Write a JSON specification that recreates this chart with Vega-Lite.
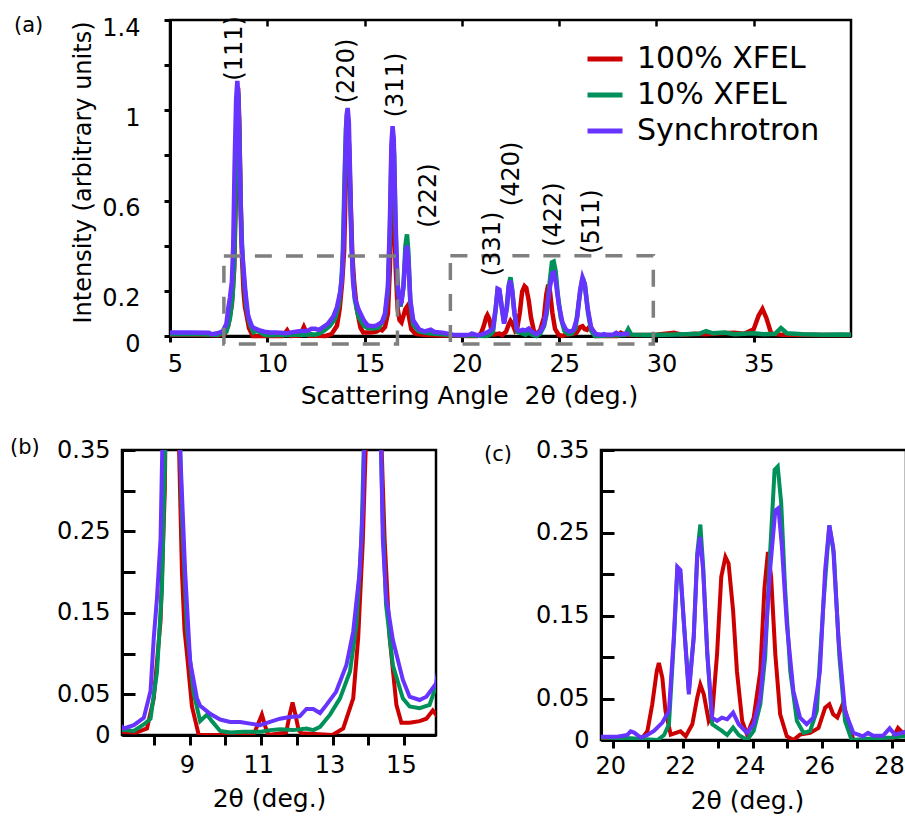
{
 "$schema": "https://vega.github.io/schema/vega-lite/v6.json",
 "padding": {"left": 8, "top": 13, "right": 0, "bottom": 0},
 "background": "white",
 "config": {
  "font": "DejaVu Sans",
  "view": {"stroke": "black", "strokeWidth": 2.5},
  "axis": {"grid": false, "domainColor": "black", "domainWidth": 3, "tickColor": "black", "tickWidth": 3, "labelColor": "black", "titleColor": "black", "labelFont": "DejaVu Sans", "titleFont": "DejaVu Sans", "labelFontSize": 24, "titleFontSize": 25, "titleFontWeight": "normal", "labelFlush": false, "labelOverlap": false, "format": "~g"},
  "title": {"font": "DejaVu Sans", "fontSize": 21, "fontWeight": "normal", "color": "black"}
 },
 "datasets": {
  "xrd": [
   {"s":"100% XFEL","x":5,"y":0.005},{"s":"100% XFEL","x":6,"y":0.005},{"s":"100% XFEL","x":7,"y":0.004},{"s":"100% XFEL","x":7.5,"y":0.003},{"s":"100% XFEL","x":7.8,"y":0.008},{"s":"100% XFEL","x":7.99,"y":0.045},{"s":"100% XFEL","x":8.18,"y":0.14},{"s":"100% XFEL","x":8.3,"y":0.3},{"s":"100% XFEL","x":8.38,"y":0.6},{"s":"100% XFEL","x":8.45,"y":1.0},{"s":"100% XFEL","x":8.5,"y":1.1},{"s":"100% XFEL","x":8.56,"y":0.95},{"s":"100% XFEL","x":8.63,"y":0.6},{"s":"100% XFEL","x":8.7,"y":0.35},{"s":"100% XFEL","x":8.78,"y":0.2},{"s":"100% XFEL","x":8.85,"y":0.13},{"s":"100% XFEL","x":8.92,"y":0.1},{"s":"100% XFEL","x":9.06,"y":0.035},{"s":"100% XFEL","x":9.25,"y":0},{"s":"100% XFEL","x":10.78,"y":0},{"s":"100% XFEL","x":10.9,"y":0.012},{"s":"100% XFEL","x":11.02,"y":0.025},{"s":"100% XFEL","x":11.12,"y":0.01},{"s":"100% XFEL","x":11.2,"y":0},{"s":"100% XFEL","x":11.7,"y":0.003},{"s":"100% XFEL","x":11.8,"y":0.025},{"s":"100% XFEL","x":11.88,"y":0.04},{"s":"100% XFEL","x":11.96,"y":0.025},{"s":"100% XFEL","x":12.05,"y":0.006},{"s":"100% XFEL","x":12.13,"y":0.002},{"s":"100% XFEL","x":13,"y":0},{"s":"100% XFEL","x":13.3,"y":0.008},{"s":"100% XFEL","x":13.58,"y":0.045},{"s":"100% XFEL","x":13.72,"y":0.12},{"s":"100% XFEL","x":13.85,"y":0.24},{"s":"100% XFEL","x":13.95,"y":0.38},{"s":"100% XFEL","x":14.04,"y":0.7},{"s":"100% XFEL","x":14.12,"y":0.88},{"s":"100% XFEL","x":14.2,"y":0.85},{"s":"100% XFEL","x":14.28,"y":0.6},{"s":"100% XFEL","x":14.37,"y":0.36},{"s":"100% XFEL","x":14.46,"y":0.24},{"s":"100% XFEL","x":14.6,"y":0.12},{"s":"100% XFEL","x":14.79,"y":0.037},{"s":"100% XFEL","x":14.93,"y":0.015},{"s":"100% XFEL","x":15.16,"y":0.015},{"s":"100% XFEL","x":15.44,"y":0.017},{"s":"100% XFEL","x":15.63,"y":0.02},{"s":"100% XFEL","x":15.81,"y":0.03},{"s":"100% XFEL","x":15.9,"y":0.025},{"s":"100% XFEL","x":16.05,"y":0.04},{"s":"100% XFEL","x":16.2,"y":0.1},{"s":"100% XFEL","x":16.3,"y":0.3},{"s":"100% XFEL","x":16.38,"y":0.55},{"s":"100% XFEL","x":16.45,"y":0.68},{"s":"100% XFEL","x":16.52,"y":0.55},{"s":"100% XFEL","x":16.6,"y":0.3},{"s":"100% XFEL","x":16.7,"y":0.12},{"s":"100% XFEL","x":16.8,"y":0.07},{"s":"100% XFEL","x":16.9,"y":0.06},{"s":"100% XFEL","x":17,"y":0.09},{"s":"100% XFEL","x":17.1,"y":0.12},{"s":"100% XFEL","x":17.18,"y":0.13},{"s":"100% XFEL","x":17.27,"y":0.09},{"s":"100% XFEL","x":17.4,"y":0.03},{"s":"100% XFEL","x":17.6,"y":0.01},{"s":"100% XFEL","x":18,"y":0.005},{"s":"100% XFEL","x":19,"y":0.002},{"s":"100% XFEL","x":20.5,"y":0},{"s":"100% XFEL","x":20.79,"y":0},{"s":"100% XFEL","x":20.98,"y":0.0105},{"s":"100% XFEL","x":21.12,"y":0.043},{"s":"100% XFEL","x":21.25,"y":0.083},{"s":"100% XFEL","x":21.31,"y":0.093},{"s":"100% XFEL","x":21.41,"y":0.075},{"s":"100% XFEL","x":21.5,"y":0.035},{"s":"100% XFEL","x":21.65,"y":0.0065},{"s":"100% XFEL","x":21.93,"y":0.0105},{"s":"100% XFEL","x":22.08,"y":0.0045},{"s":"100% XFEL","x":22.27,"y":0.019},{"s":"100% XFEL","x":22.41,"y":0.051},{"s":"100% XFEL","x":22.5,"y":0.067},{"s":"100% XFEL","x":22.6,"y":0.055},{"s":"100% XFEL","x":22.74,"y":0.023},{"s":"100% XFEL","x":22.84,"y":0.031},{"s":"100% XFEL","x":22.98,"y":0.104},{"s":"100% XFEL","x":23.1,"y":0.197},{"s":"100% XFEL","x":23.22,"y":0.221},{"s":"100% XFEL","x":23.31,"y":0.213},{"s":"100% XFEL","x":23.44,"y":0.156},{"s":"100% XFEL","x":23.55,"y":0.083},{"s":"100% XFEL","x":23.7,"y":0.023},{"s":"100% XFEL","x":23.84,"y":0.0065},{"s":"100% XFEL","x":24.03,"y":0.027},{"s":"100% XFEL","x":24.22,"y":0.083},{"s":"100% XFEL","x":24.34,"y":0.184},{"s":"100% XFEL","x":24.44,"y":0.227},{"s":"100% XFEL","x":24.53,"y":0.197},{"s":"100% XFEL","x":24.65,"y":0.104},{"s":"100% XFEL","x":24.79,"y":0.031},{"s":"100% XFEL","x":24.98,"y":0.0045},{"s":"100% XFEL","x":25.17,"y":0},{"s":"100% XFEL","x":25.36,"y":0.0065},{"s":"100% XFEL","x":25.65,"y":0.0085},{"s":"100% XFEL","x":25.89,"y":0.0145},{"s":"100% XFEL","x":26.08,"y":0.039},{"s":"100% XFEL","x":26.2,"y":0.043},{"s":"100% XFEL","x":26.31,"y":0.031},{"s":"100% XFEL","x":26.43,"y":0.027},{"s":"100% XFEL","x":26.6,"y":0.045},{"s":"100% XFEL","x":26.74,"y":0.023},{"s":"100% XFEL","x":26.89,"y":0},{"s":"100% XFEL","x":28,"y":0},{"s":"100% XFEL","x":28.17,"y":0.0145},{"s":"100% XFEL","x":28.27,"y":0.01},{"s":"100% XFEL","x":28.41,"y":0.005},{"s":"100% XFEL","x":29,"y":0.004},{"s":"100% XFEL","x":30,"y":0.006},{"s":"100% XFEL","x":30.9,"y":0.014},{"s":"100% XFEL","x":31.3,"y":0.006},{"s":"100% XFEL","x":32,"y":0.01},{"s":"100% XFEL","x":32.5,"y":0.008},{"s":"100% XFEL","x":33.3,"y":0.012},{"s":"100% XFEL","x":34,"y":0.014},{"s":"100% XFEL","x":34.5,"y":0.01},{"s":"100% XFEL","x":35,"y":0.03},{"s":"100% XFEL","x":35.25,"y":0.09},{"s":"100% XFEL","x":35.45,"y":0.12},{"s":"100% XFEL","x":35.65,"y":0.08},{"s":"100% XFEL","x":35.9,"y":0.01},{"s":"100% XFEL","x":36.5,"y":0.005},{"s":"100% XFEL","x":37.5,"y":0.005},{"s":"100% XFEL","x":38.5,"y":0.004},{"s":"100% XFEL","x":40,"y":0.004},
   {"s":"10% XFEL","x":5,"y":0.008},{"s":"10% XFEL","x":6,"y":0.009},{"s":"10% XFEL","x":7,"y":0.007},{"s":"10% XFEL","x":7.43,"y":0.005},{"s":"10% XFEL","x":7.71,"y":0.013},{"s":"10% XFEL","x":7.9,"y":0.02},{"s":"10% XFEL","x":8.08,"y":0.077},{"s":"10% XFEL","x":8.22,"y":0.18},{"s":"10% XFEL","x":8.3,"y":0.33},{"s":"10% XFEL","x":8.37,"y":0.65},{"s":"10% XFEL","x":8.44,"y":1.0},{"s":"10% XFEL","x":8.5,"y":1.08},{"s":"10% XFEL","x":8.56,"y":0.92},{"s":"10% XFEL","x":8.63,"y":0.6},{"s":"10% XFEL","x":8.7,"y":0.4},{"s":"10% XFEL","x":8.78,"y":0.27},{"s":"10% XFEL","x":8.92,"y":0.13},{"s":"10% XFEL","x":9.1,"y":0.053},{"s":"10% XFEL","x":9.29,"y":0.017},{"s":"10% XFEL","x":9.48,"y":0.025},{"s":"10% XFEL","x":9.62,"y":0.017},{"s":"10% XFEL","x":9.85,"y":0.005},{"s":"10% XFEL","x":10.13,"y":0.003},{"s":"10% XFEL","x":10.5,"y":0.004},{"s":"10% XFEL","x":11,"y":0.004},{"s":"10% XFEL","x":11.25,"y":0.006},{"s":"10% XFEL","x":11.53,"y":0.007},{"s":"10% XFEL","x":11.9,"y":0.006},{"s":"10% XFEL","x":12.27,"y":0.008},{"s":"10% XFEL","x":12.46,"y":0.006},{"s":"10% XFEL","x":12.65,"y":0.01},{"s":"10% XFEL","x":12.93,"y":0.025},{"s":"10% XFEL","x":13.21,"y":0.045},{"s":"10% XFEL","x":13.49,"y":0.078},{"s":"10% XFEL","x":13.67,"y":0.135},{"s":"10% XFEL","x":13.81,"y":0.24},{"s":"10% XFEL","x":13.88,"y":0.36},{"s":"10% XFEL","x":13.96,"y":0.65},{"s":"10% XFEL","x":14.04,"y":0.92},{"s":"10% XFEL","x":14.1,"y":0.98},{"s":"10% XFEL","x":14.17,"y":0.93},{"s":"10% XFEL","x":14.25,"y":0.65},{"s":"10% XFEL","x":14.33,"y":0.4},{"s":"10% XFEL","x":14.41,"y":0.26},{"s":"10% XFEL","x":14.5,"y":0.16},{"s":"10% XFEL","x":14.69,"y":0.086},{"s":"10% XFEL","x":14.97,"y":0.045},{"s":"10% XFEL","x":15.16,"y":0.035},{"s":"10% XFEL","x":15.44,"y":0.033},{"s":"10% XFEL","x":15.72,"y":0.037},{"s":"10% XFEL","x":15.9,"y":0.06},{"s":"10% XFEL","x":16.05,"y":0.09},{"s":"10% XFEL","x":16.2,"y":0.2},{"s":"10% XFEL","x":16.3,"y":0.45},{"s":"10% XFEL","x":16.38,"y":0.8},{"s":"10% XFEL","x":16.45,"y":0.9},{"s":"10% XFEL","x":16.52,"y":0.8},{"s":"10% XFEL","x":16.6,"y":0.45},{"s":"10% XFEL","x":16.7,"y":0.2},{"s":"10% XFEL","x":16.85,"y":0.13},{"s":"10% XFEL","x":17,"y":0.22},{"s":"10% XFEL","x":17.1,"y":0.4},{"s":"10% XFEL","x":17.18,"y":0.45},{"s":"10% XFEL","x":17.25,"y":0.37},{"s":"10% XFEL","x":17.35,"y":0.15},{"s":"10% XFEL","x":17.5,"y":0.05},{"s":"10% XFEL","x":17.8,"y":0.02},{"s":"10% XFEL","x":18.3,"y":0.012},{"s":"10% XFEL","x":19,"y":0.008},{"s":"10% XFEL","x":19.6,"y":0.003},{"s":"10% XFEL","x":20.5,"y":0.002},{"s":"10% XFEL","x":21.27,"y":0},{"s":"10% XFEL","x":21.46,"y":0.006},{"s":"10% XFEL","x":21.6,"y":0.019},{"s":"10% XFEL","x":21.74,"y":0.12},{"s":"10% XFEL","x":21.84,"y":0.205},{"s":"10% XFEL","x":21.93,"y":0.2},{"s":"10% XFEL","x":22.03,"y":0.14},{"s":"10% XFEL","x":22.17,"y":0.06},{"s":"10% XFEL","x":22.31,"y":0.124},{"s":"10% XFEL","x":22.41,"y":0.225},{"s":"10% XFEL","x":22.5,"y":0.26},{"s":"10% XFEL","x":22.58,"y":0.21},{"s":"10% XFEL","x":22.7,"y":0.104},{"s":"10% XFEL","x":22.84,"y":0.019},{"s":"10% XFEL","x":22.98,"y":0.015},{"s":"10% XFEL","x":23.12,"y":0.011},{"s":"10% XFEL","x":23.27,"y":0.006},{"s":"10% XFEL","x":23.44,"y":0.015},{"s":"10% XFEL","x":23.6,"y":0.006},{"s":"10% XFEL","x":23.84,"y":0},{"s":"10% XFEL","x":24.03,"y":0.011},{"s":"10% XFEL","x":24.22,"y":0.043},{"s":"10% XFEL","x":24.36,"y":0.1},{"s":"10% XFEL","x":24.5,"y":0.225},{"s":"10% XFEL","x":24.63,"y":0.326},{"s":"10% XFEL","x":24.72,"y":0.33},{"s":"10% XFEL","x":24.82,"y":0.286},{"s":"10% XFEL","x":24.93,"y":0.184},{"s":"10% XFEL","x":25.08,"y":0.083},{"s":"10% XFEL","x":25.27,"y":0.023},{"s":"10% XFEL","x":25.46,"y":0.0085},{"s":"10% XFEL","x":25.65,"y":0.011},{"s":"10% XFEL","x":25.84,"y":0.035},{"s":"10% XFEL","x":26.03,"y":0.164},{"s":"10% XFEL","x":26.2,"y":0.259},{"s":"10% XFEL","x":26.33,"y":0.225},{"s":"10% XFEL","x":26.49,"y":0.1},{"s":"10% XFEL","x":26.65,"y":0.023},{"s":"10% XFEL","x":26.84,"y":0},{"s":"10% XFEL","x":27.5,"y":0.002},{"s":"10% XFEL","x":28,"y":0.003},{"s":"10% XFEL","x":28.4,"y":0.005},{"s":"10% XFEL","x":28.55,"y":0.03},{"s":"10% XFEL","x":28.7,"y":0.006},{"s":"10% XFEL","x":29.5,"y":0.004},{"s":"10% XFEL","x":30.5,"y":0.006},{"s":"10% XFEL","x":31.5,"y":0.008},{"s":"10% XFEL","x":32.2,"y":0.01},{"s":"10% XFEL","x":32.55,"y":0.022},{"s":"10% XFEL","x":32.9,"y":0.012},{"s":"10% XFEL","x":33.5,"y":0.015},{"s":"10% XFEL","x":34,"y":0.008},{"s":"10% XFEL","x":34.5,"y":0.01},{"s":"10% XFEL","x":35,"y":0.012},{"s":"10% XFEL","x":35.5,"y":0.008},{"s":"10% XFEL","x":36.1,"y":0.01},{"s":"10% XFEL","x":36.4,"y":0.035},{"s":"10% XFEL","x":36.7,"y":0.012},{"s":"10% XFEL","x":37.5,"y":0.008},{"s":"10% XFEL","x":38.5,"y":0.006},{"s":"10% XFEL","x":39.5,"y":0.007},{"s":"10% XFEL","x":40,"y":0.006},
   {"s":"Synchrotron","x":5,"y":0.015},{"s":"Synchrotron","x":6,"y":0.016},{"s":"Synchrotron","x":7,"y":0.014},{"s":"Synchrotron","x":7.15,"y":0.008},{"s":"Synchrotron","x":7.43,"y":0.012},{"s":"Synchrotron","x":7.71,"y":0.021},{"s":"Synchrotron","x":7.9,"y":0.054},{"s":"Synchrotron","x":7.99,"y":0.119},{"s":"Synchrotron","x":8.08,"y":0.168},{"s":"Synchrotron","x":8.18,"y":0.24},{"s":"Synchrotron","x":8.25,"y":0.4},{"s":"Synchrotron","x":8.32,"y":0.75},{"s":"Synchrotron","x":8.4,"y":1.05},{"s":"Synchrotron","x":8.46,"y":1.13},{"s":"Synchrotron","x":8.52,"y":1.05},{"s":"Synchrotron","x":8.59,"y":0.75},{"s":"Synchrotron","x":8.66,"y":0.45},{"s":"Synchrotron","x":8.73,"y":0.35},{"s":"Synchrotron","x":8.87,"y":0.2},{"s":"Synchrotron","x":9.01,"y":0.09},{"s":"Synchrotron","x":9.2,"y":0.045},{"s":"Synchrotron","x":9.29,"y":0.036},{"s":"Synchrotron","x":9.57,"y":0.026},{"s":"Synchrotron","x":9.85,"y":0.019},{"s":"Synchrotron","x":10.13,"y":0.016},{"s":"Synchrotron","x":10.41,"y":0.016},{"s":"Synchrotron","x":10.69,"y":0.014},{"s":"Synchrotron","x":10.97,"y":0.012},{"s":"Synchrotron","x":11.25,"y":0.016},{"s":"Synchrotron","x":11.53,"y":0.02},{"s":"Synchrotron","x":11.8,"y":0.022},{"s":"Synchrotron","x":12.08,"y":0.023},{"s":"Synchrotron","x":12.27,"y":0.032},{"s":"Synchrotron","x":12.46,"y":0.032},{"s":"Synchrotron","x":12.65,"y":0.027},{"s":"Synchrotron","x":12.83,"y":0.037},{"s":"Synchrotron","x":13.1,"y":0.053},{"s":"Synchrotron","x":13.39,"y":0.086},{"s":"Synchrotron","x":13.58,"y":0.127},{"s":"Synchrotron","x":13.76,"y":0.2},{"s":"Synchrotron","x":13.85,"y":0.28},{"s":"Synchrotron","x":13.92,"y":0.42},{"s":"Synchrotron","x":14,"y":0.75},{"s":"Synchrotron","x":14.08,"y":0.98},{"s":"Synchrotron","x":14.13,"y":1.01},{"s":"Synchrotron","x":14.19,"y":0.95},{"s":"Synchrotron","x":14.26,"y":0.7},{"s":"Synchrotron","x":14.33,"y":0.42},{"s":"Synchrotron","x":14.41,"y":0.24},{"s":"Synchrotron","x":14.5,"y":0.17},{"s":"Synchrotron","x":14.69,"y":0.117},{"s":"Synchrotron","x":14.97,"y":0.068},{"s":"Synchrotron","x":15.16,"y":0.047},{"s":"Synchrotron","x":15.44,"y":0.043},{"s":"Synchrotron","x":15.63,"y":0.047},{"s":"Synchrotron","x":15.9,"y":0.063},{"s":"Synchrotron","x":16.05,"y":0.1},{"s":"Synchrotron","x":16.2,"y":0.22},{"s":"Synchrotron","x":16.3,"y":0.5},{"s":"Synchrotron","x":16.38,"y":0.85},{"s":"Synchrotron","x":16.44,"y":0.93},{"s":"Synchrotron","x":16.5,"y":0.87},{"s":"Synchrotron","x":16.58,"y":0.55},{"s":"Synchrotron","x":16.68,"y":0.25},{"s":"Synchrotron","x":16.8,"y":0.14},{"s":"Synchrotron","x":16.9,"y":0.15},{"s":"Synchrotron","x":17,"y":0.22},{"s":"Synchrotron","x":17.1,"y":0.36},{"s":"Synchrotron","x":17.18,"y":0.4},{"s":"Synchrotron","x":17.25,"y":0.34},{"s":"Synchrotron","x":17.35,"y":0.16},{"s":"Synchrotron","x":17.5,"y":0.07},{"s":"Synchrotron","x":17.8,"y":0.03},{"s":"Synchrotron","x":18.1,"y":0.02},{"s":"Synchrotron","x":18.4,"y":0.028},{"s":"Synchrotron","x":18.6,"y":0.018},{"s":"Synchrotron","x":19,"y":0.015},{"s":"Synchrotron","x":19.65,"y":0.004},{"s":"Synchrotron","x":20.12,"y":0.004},{"s":"Synchrotron","x":20.4,"y":0.006},{"s":"Synchrotron","x":20.5,"y":0.0105},{"s":"Synchrotron","x":20.6,"y":0.009},{"s":"Synchrotron","x":20.79,"y":0.003},{"s":"Synchrotron","x":20.98,"y":0.006},{"s":"Synchrotron","x":21.17,"y":0.011},{"s":"Synchrotron","x":21.41,"y":0.021},{"s":"Synchrotron","x":21.6,"y":0.035},{"s":"Synchrotron","x":21.74,"y":0.124},{"s":"Synchrotron","x":21.84,"y":0.209},{"s":"Synchrotron","x":21.93,"y":0.205},{"s":"Synchrotron","x":22.03,"y":0.14},{"s":"Synchrotron","x":22.17,"y":0.055},{"s":"Synchrotron","x":22.31,"y":0.124},{"s":"Synchrotron","x":22.41,"y":0.22},{"s":"Synchrotron","x":22.49,"y":0.245},{"s":"Synchrotron","x":22.58,"y":0.205},{"s":"Synchrotron","x":22.7,"y":0.104},{"s":"Synchrotron","x":22.84,"y":0.027},{"s":"Synchrotron","x":22.98,"y":0.023},{"s":"Synchrotron","x":23.12,"y":0.027},{"s":"Synchrotron","x":23.27,"y":0.025},{"s":"Synchrotron","x":23.44,"y":0.033},{"s":"Synchrotron","x":23.6,"y":0.019},{"s":"Synchrotron","x":23.84,"y":0.0085},{"s":"Synchrotron","x":24.03,"y":0.019},{"s":"Synchrotron","x":24.22,"y":0.051},{"s":"Synchrotron","x":24.36,"y":0.116},{"s":"Synchrotron","x":24.5,"y":0.205},{"s":"Synchrotron","x":24.65,"y":0.277},{"s":"Synchrotron","x":24.74,"y":0.28},{"s":"Synchrotron","x":24.84,"y":0.233},{"s":"Synchrotron","x":24.98,"y":0.14},{"s":"Synchrotron","x":25.17,"y":0.059},{"s":"Synchrotron","x":25.36,"y":0.027},{"s":"Synchrotron","x":25.55,"y":0.019},{"s":"Synchrotron","x":25.74,"y":0.027},{"s":"Synchrotron","x":25.93,"y":0.083},{"s":"Synchrotron","x":26.08,"y":0.205},{"s":"Synchrotron","x":26.2,"y":0.259},{"s":"Synchrotron","x":26.31,"y":0.233},{"s":"Synchrotron","x":26.46,"y":0.124},{"s":"Synchrotron","x":26.65,"y":0.035},{"s":"Synchrotron","x":26.89,"y":0.0085},{"s":"Synchrotron","x":27.17,"y":0.0045},{"s":"Synchrotron","x":27.31,"y":0.0085},{"s":"Synchrotron","x":27.46,"y":0.005},{"s":"Synchrotron","x":27.74,"y":0.005},{"s":"Synchrotron","x":27.93,"y":0.014},{"s":"Synchrotron","x":28.08,"y":0.0065},{"s":"Synchrotron","x":28.27,"y":0.0085},{"s":"Synchrotron","x":28.45,"y":0.011},{"s":"Synchrotron","x":28.6,"y":0.006}
  ],
  "peaks": [
   {"label":"(111)","x":8.33,"y":1.274},{"label":"(220)","x":14.08,"y":1.174},{"label":"(311)","x":16.59,"y":1.112},{"label":"(222)","x":18.33,"y":0.622},{"label":"(331)","x":21.6,"y":0.408},{"label":"(420)","x":22.59,"y":0.718},{"label":"(422)","x":24.72,"y":0.538},{"label":"(511)","x":26.67,"y":0.507}
  ],
  "boxes": [
   {"x1":7.77,"x2":16.69,"y1":-0.035,"y2":0.354},{"x1":19.41,"x2":29.84,"y1":-0.035,"y2":0.356}
  ]
 },
 "bounds": "full",
 "spacing": 25,
 "resolve": {"scale": {"color": "independent", "x": "independent", "y": "independent"}},
 "vconcat": [
  {
   "bounds": "flush",
   "spacing": 0,
   "resolve": {"scale": {"color": "independent", "x": "independent", "y": "independent"}},
   "hconcat": [
    {"width": 48, "height": 316, "view": {"stroke": null}, "data": {"values": [{"v": 0}]}, "mark": {"type": "point", "opacity": 0}, "encoding": {}},
    {
     "width": 681, "height": 316,
     "title": {"text": "(a)", "anchor": "start", "frame": "group", "orient": "top", "offset": 0, "baseline": "middle", "dx": -156, "dy": 31},
     "resolve": {"axis": {"x": "independent"}},
     "layer": [
      {
       "data": {"name": "xrd"},
       "mark": {"type": "line", "strokeWidth": 4.5},
       "encoding": {
        "x": {"field": "x", "type": "quantitative", "scale": {"domain": [5, 40], "nice": false, "zero": false},
              "axis": {"values": [5, 10, 15, 20, 25, 30, 35], "title": "Scattering Angle\u00a0 2θ (deg.)", "tickSize": 6, "labelPadding": 10, "labelOffset": 5, "titleX": 299, "titleY": 67, "titleBaseline": "alphabetic", "titleAlign": "center"}},
        "y": {"field": "y", "type": "quantitative", "scale": {"domain": [0, 1.4], "nice": false},
              "axis": {"values": [0, 0.2, 0.4, 0.6, 0.8, 1, 1.2, 1.4], "labelExpr": "datum.label == '0.4' || datum.label == '0.8' || datum.label == '1.2' ? '' : datum.label", "title": "Intensity (arbitrary units)", "titleFontSize": 24, "tickSize": 6, "labelPadding": 24, "labelOffset": 8, "titleX": -80, "titleY": 152, "titleBaseline": "alphabetic", "titleAlign": "center"}},
        "color": {"field": "s", "type": "nominal",
                  "scale": {"domain": ["100% XFEL", "10% XFEL", "Synchrotron"], "range": ["#CC0000", "#00915A", "#6633FF"]},
                  "legend": {"orient": "none", "legendX": 415, "legendY": 19, "title": null, "padding": 0, "symbolType": "stroke", "symbolSize": 1225, "symbolStrokeWidth": 5, "labelFontSize": 30, "labelFont": "DejaVu Sans", "labelColor": "black", "labelOffset": 12, "labelLimit": 400, "rowPadding": 1}}
       }
      },
      {
       "data": {"name": "boxes"},
       "mark": {"type": "rect", "filled": false, "stroke": "#7f7f7f", "strokeWidth": 3.5, "strokeDash": [17, 14]},
       "encoding": {
        "x": {"field": "x1", "type": "quantitative", "axis": {"orient": "top", "values": [10, 15, 20, 25, 30, 35], "labels": false, "title": null, "domain": false, "tickSize": -6, "tickWidth": 2.5}},
        "x2": {"field": "x2"},
        "y": {"field": "y1", "type": "quantitative"},
        "y2": {"field": "y2"}
       }
      },
      {
       "data": {"name": "peaks"},
       "mark": {"type": "text", "angle": 270, "fontSize": 24, "font": "DejaVu Sans", "align": "center", "baseline": "middle", "color": "black"},
       "encoding": {
        "x": {"field": "x", "type": "quantitative", "axis": null},
        "y": {"field": "y", "type": "quantitative"},
        "text": {"field": "label"}
       }
      }
     ]
    }
   ]
  },
  {
   "bounds": "flush",
   "spacing": 165,
   "resolve": {"scale": {"color": "independent", "x": "independent", "y": "independent"}},
   "hconcat": [
    {
     "width": 314, "height": 285,
     "title": {"text": "(b)", "anchor": "start", "frame": "group", "orient": "top", "offset": 0, "baseline": "middle", "dx": -112, "dy": 31},
     "data": {"name": "xrd"},
     "mark": {"type": "line", "strokeWidth": 4, "clip": true},
     "encoding": {
      "x": {"field": "x", "type": "quantitative", "scale": {"domain": [7.1, 15.9], "nice": false, "zero": false},
            "axis": {"values": [8, 9, 10, 11, 12, 13, 14, 15], "labelExpr": "indexof(['9','11','13','15'], datum.label) >= 0 ? datum.label : ''", "title": "2θ (deg.)", "tickSize": 10, "labelPadding": 8, "labelOffset": -3, "titleX": 147, "titleY": 71, "titleBaseline": "alphabetic", "titleAlign": "center"}},
      "y": {"field": "y", "type": "quantitative", "scale": {"domain": [0, 0.35], "nice": false},
            "axis": {"values": [0, 0.05, 0.1, 0.15, 0.2, 0.25, 0.3, 0.35], "labelExpr": "indexof(['0','0.05','0.15','0.25','0.35'], datum.label) >= 0 ? datum.label : ''", "title": null, "tickSize": -13, "labelPadding": 25}},
      "color": {"field": "s", "type": "nominal", "scale": {"domain": ["100% XFEL", "10% XFEL", "Synchrotron"], "range": ["#CC0000", "#00915A", "#6633FF"]}, "legend": null}
     }
    },
    {
     "width": 305, "height": 290,
     "title": {"text": "(c)", "anchor": "start", "frame": "group", "orient": "top", "offset": 0, "baseline": "middle", "dx": -117, "dy": 38},
     "data": {"name": "xrd"},
     "mark": {"type": "line", "strokeWidth": 4, "clip": true},
     "encoding": {
      "x": {"field": "x", "type": "quantitative", "scale": {"domain": [19.65, 28.4], "nice": false, "zero": false},
            "axis": {"values": [20, 21, 22, 23, 24, 25, 26, 27, 28], "labelExpr": "indexof(['20','22','24','26','28'], datum.label) >= 0 ? datum.label : ''", "title": "2θ (deg.)", "tickSize": 8, "labelPadding": 6, "labelOffset": -3, "titleX": 146, "titleY": 68, "titleBaseline": "alphabetic", "titleAlign": "center"}},
      "y": {"field": "y", "type": "quantitative", "scale": {"domain": [0, 0.35], "nice": false},
            "axis": {"values": [0, 0.05, 0.1, 0.15, 0.2, 0.25, 0.3, 0.35], "labelExpr": "indexof(['0','0.05','0.15','0.25','0.35'], datum.label) >= 0 ? datum.label : ''", "title": null, "tickSize": -13, "labelPadding": 25}},
      "color": {"field": "s", "type": "nominal", "scale": {"domain": ["100% XFEL", "10% XFEL", "Synchrotron"], "range": ["#CC0000", "#00915A", "#6633FF"]}, "legend": null}
     }
    }
   ]
  }
 ]
}
